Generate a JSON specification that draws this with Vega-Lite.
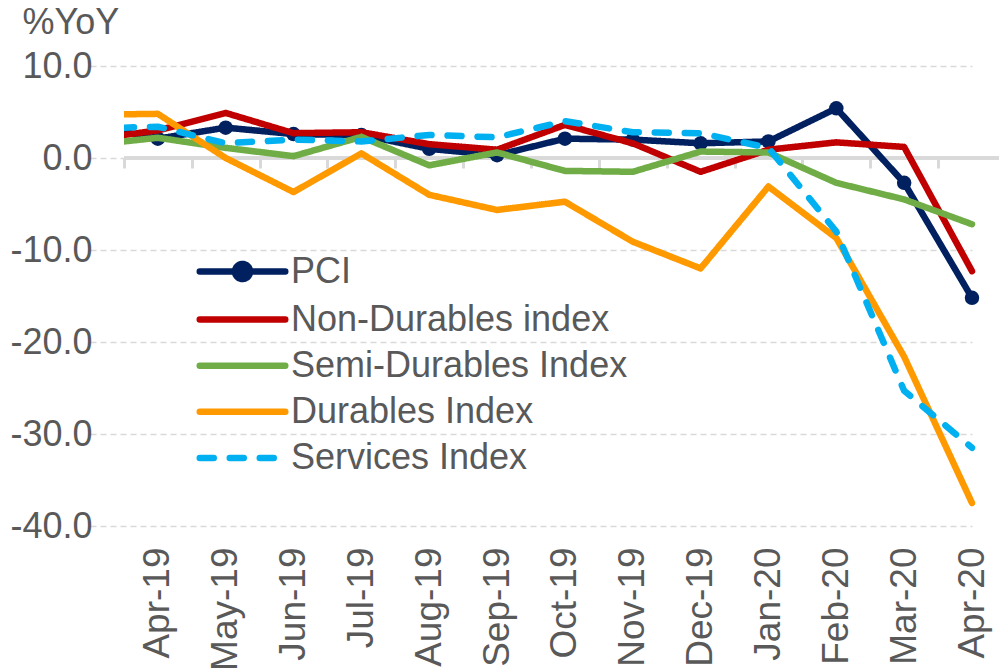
{
  "$schema": "https://vega.github.io/schema/vega-lite/v6.json",
  "width": 875,
  "height": 460,
  "autosize": {"type": "none"},
  "padding": {"left": 124, "top": 66, "right": 0, "bottom": 146},
  "background": "white",
  "config": {"view": {"stroke": null}, "font": "Liberation Sans"},
  "data": {
    "values": [
      {"month": "Mar-19", "series": "PCI", "value": 3.5},
      {"month": "Apr-19", "series": "PCI", "value": 2.1},
      {"month": "May-19", "series": "PCI", "value": 3.3},
      {"month": "Jun-19", "series": "PCI", "value": 2.6},
      {"month": "Jul-19", "series": "PCI", "value": 2.5},
      {"month": "Aug-19", "series": "PCI", "value": 1.0},
      {"month": "Sep-19", "series": "PCI", "value": 0.3},
      {"month": "Oct-19", "series": "PCI", "value": 2.1},
      {"month": "Nov-19", "series": "PCI", "value": 2.0},
      {"month": "Dec-19", "series": "PCI", "value": 1.6},
      {"month": "Jan-20", "series": "PCI", "value": 1.8},
      {"month": "Feb-20", "series": "PCI", "value": 5.4},
      {"month": "Mar-20", "series": "PCI", "value": -2.7},
      {"month": "Apr-20", "series": "PCI", "value": -15.2},
      {"month": "Mar-19", "series": "Non-Durables index", "value": 2.0},
      {"month": "Apr-19", "series": "Non-Durables index", "value": 3.0},
      {"month": "May-19", "series": "Non-Durables index", "value": 4.9},
      {"month": "Jun-19", "series": "Non-Durables index", "value": 2.7},
      {"month": "Jul-19", "series": "Non-Durables index", "value": 2.8},
      {"month": "Aug-19", "series": "Non-Durables index", "value": 1.5},
      {"month": "Sep-19", "series": "Non-Durables index", "value": 0.9},
      {"month": "Oct-19", "series": "Non-Durables index", "value": 3.6},
      {"month": "Nov-19", "series": "Non-Durables index", "value": 1.6},
      {"month": "Dec-19", "series": "Non-Durables index", "value": -1.5},
      {"month": "Jan-20", "series": "Non-Durables index", "value": 0.9},
      {"month": "Feb-20", "series": "Non-Durables index", "value": 1.7},
      {"month": "Mar-20", "series": "Non-Durables index", "value": 1.2},
      {"month": "Apr-20", "series": "Non-Durables index", "value": -12.3},
      {"month": "Mar-19", "series": "Semi-Durables Index", "value": 1.4},
      {"month": "Apr-19", "series": "Semi-Durables Index", "value": 2.2},
      {"month": "May-19", "series": "Semi-Durables Index", "value": 1.1},
      {"month": "Jun-19", "series": "Semi-Durables Index", "value": 0.2},
      {"month": "Jul-19", "series": "Semi-Durables Index", "value": 2.3},
      {"month": "Aug-19", "series": "Semi-Durables Index", "value": -0.8},
      {"month": "Sep-19", "series": "Semi-Durables Index", "value": 0.6},
      {"month": "Oct-19", "series": "Semi-Durables Index", "value": -1.4},
      {"month": "Nov-19", "series": "Semi-Durables Index", "value": -1.5},
      {"month": "Dec-19", "series": "Semi-Durables Index", "value": 0.7},
      {"month": "Jan-20", "series": "Semi-Durables Index", "value": 0.6},
      {"month": "Feb-20", "series": "Semi-Durables Index", "value": -2.7},
      {"month": "Mar-20", "series": "Semi-Durables Index", "value": -4.5},
      {"month": "Apr-20", "series": "Semi-Durables Index", "value": -7.2},
      {"month": "Mar-19", "series": "Durables Index", "value": 4.7},
      {"month": "Apr-19", "series": "Durables Index", "value": 4.8},
      {"month": "May-19", "series": "Durables Index", "value": 0.0},
      {"month": "Jun-19", "series": "Durables Index", "value": -3.7},
      {"month": "Jul-19", "series": "Durables Index", "value": 0.5},
      {"month": "Aug-19", "series": "Durables Index", "value": -4.0},
      {"month": "Sep-19", "series": "Durables Index", "value": -5.65},
      {"month": "Oct-19", "series": "Durables Index", "value": -4.75},
      {"month": "Nov-19", "series": "Durables Index", "value": -9.1},
      {"month": "Dec-19", "series": "Durables Index", "value": -12.0},
      {"month": "Jan-20", "series": "Durables Index", "value": -3.1},
      {"month": "Feb-20", "series": "Durables Index", "value": -8.7},
      {"month": "Mar-20", "series": "Durables Index", "value": -21.6},
      {"month": "Apr-20", "series": "Durables Index", "value": -37.5},
      {"month": "Mar-19", "series": "Services Index", "value": 3.2},
      {"month": "Apr-19", "series": "Services Index", "value": 3.4},
      {"month": "May-19", "series": "Services Index", "value": 1.6},
      {"month": "Jun-19", "series": "Services Index", "value": 2.0},
      {"month": "Jul-19", "series": "Services Index", "value": 1.8},
      {"month": "Aug-19", "series": "Services Index", "value": 2.5},
      {"month": "Sep-19", "series": "Services Index", "value": 2.25},
      {"month": "Oct-19", "series": "Services Index", "value": 4.0},
      {"month": "Nov-19", "series": "Services Index", "value": 2.8},
      {"month": "Dec-19", "series": "Services Index", "value": 2.7},
      {"month": "Jan-20", "series": "Services Index", "value": 1.1},
      {"month": "Feb-20", "series": "Services Index", "value": -8.0},
      {"month": "Mar-20", "series": "Services Index", "value": -25.3},
      {"month": "Apr-20", "series": "Services Index", "value": -31.5}
    ]
  },
  "resolve": {"axis": {"x": "independent"}},
  "layer": [
    {
      "mark": {"type": "rule", "color": "#d9d9d9", "strokeWidth": 3},
      "encoding": {"y": {"datum": 0, "type": "quantitative"}}
    },
    {
      "transform": [{"filter": "datum.series === 'PCI'"}],
      "mark": {"type": "point", "filled": true, "size": 210, "color": "#002060", "opacity": 1, "clip": true},
      "encoding": {
        "x": {
          "field": "month", "type": "ordinal",
          "scale": {"type": "point", "padding": 0, "domain": ["Mar-19","Apr-19","May-19","Jun-19","Jul-19","Aug-19","Sep-19","Oct-19","Nov-19","Dec-19","Jan-20","Feb-20","Mar-20","Apr-20"], "range": [-34, 848]},
          "axis": {"orient": "bottom", "offset": -368, "labels": false, "domain": false, "grid": false, "ticks": true, "tickSize": 10, "tickWidth": 3, "tickColor": "#d9d9d9", "tickOffset": 33.9, "title": null,
            "values": ["Mar-19","Apr-19","May-19","Jun-19","Jul-19","Aug-19","Sep-19","Oct-19","Nov-19","Dec-19","Jan-20","Feb-20","Mar-20"]}
        },
        "y": {"field": "value", "type": "quantitative"}
      }
    },
    {
      "mark": {"type": "line", "strokeWidth": 6.5, "clip": true, "strokeCap": "round", "strokeJoin": "round"},
      "encoding": {
        "x": {
          "field": "month", "type": "ordinal",
          "scale": {"type": "point", "padding": 0, "domain": ["Mar-19","Apr-19","May-19","Jun-19","Jul-19","Aug-19","Sep-19","Oct-19","Nov-19","Dec-19","Jan-20","Feb-20","Mar-20","Apr-20"], "range": [-34, 848]},
          "axis": {"orient": "bottom", "labelAngle": 270, "labelFontSize": 37, "labelColor": "#595959", "ticks": false, "domain": false, "grid": false, "labelPadding": 21, "title": null,
            "values": ["Apr-19","May-19","Jun-19","Jul-19","Aug-19","Sep-19","Oct-19","Nov-19","Dec-19","Jan-20","Feb-20","Mar-20","Apr-20"]}
        },
        "y": {
          "field": "value", "type": "quantitative",
          "scale": {"domain": [-40, 10], "nice": false, "zero": false},
          "axis": {"values": [-40, -30, -20, -10, 0, 10], "grid": true, "gridDash": [6, 4], "gridColor": "#d9d9d9", "gridWidth": 1.5, "domain": false, "ticks": false,
            "labelFontSize": 36, "labelColor": "#595959", "labelPadding": 32,
            "labelExpr": "datum.value < 0 ? '-' + format(-datum.value, '.1f') : format(datum.value, '.1f')",
            "title": "%YoY", "titleAngle": 0, "titleX": -102, "titleY": -33, "titleAlign": "left", "titleBaseline": "alphabetic", "titleFontSize": 36, "titleFontWeight": "normal", "titleColor": "#595959"}
        },
        "color": {
          "field": "series", "type": "nominal",
          "scale": {"domain": ["PCI","Non-Durables index","Semi-Durables Index","Durables Index","Services Index"], "range": ["#002060","#C00000","#70AD47","#FF9900","#00B0F0"]},
          "legend": {"orient": "none", "legendX": 100, "legendY": 187, "title": null, "symbolType": "M-2.85,0H2.85", "symbolSize": 900, "symbolStrokeWidth": 6.5, "labelFontSize": 36, "labelColor": "#595959", "labelOffset": 30, "labelLimit": 0, "rowPadding": 9.1, "padding": 0,
            "encode": {"symbols": {"update": {
              "shape": {"signal": "datum.value === 'PCI' ? 'M-2.85,0H2.85M-0.5,0A0.5,0.5 0 1,0 0.5,0A0.5,0.5 0 1,0 -0.5,0Z' : 'M-2.85,0H2.85'"},
              "fill": {"signal": "datum.value === 'PCI' ? '#002060' : 'transparent'"},
              "strokeCap": {"value": "round"}}}}}
        },
        "strokeDash": {
          "field": "series", "type": "nominal",
          "scale": {"domain": ["PCI","Non-Durables index","Semi-Durables Index","Durables Index","Services Index"], "range": [[1,0],[1,0],[1,0],[1,0],[14,16]]},
          "legend": {"orient": "none", "legendX": 100, "legendY": 187, "title": null, "symbolType": "M-2.85,0H2.85", "symbolSize": 900, "symbolStrokeWidth": 6.5, "labelFontSize": 36, "labelColor": "#595959", "labelOffset": 30, "labelLimit": 0, "rowPadding": 9.1, "padding": 0,
            "encode": {"symbols": {"update": {
              "shape": {"signal": "datum.value === 'PCI' ? 'M-2.85,0H2.85M-0.5,0A0.5,0.5 0 1,0 0.5,0A0.5,0.5 0 1,0 -0.5,0Z' : 'M-2.85,0H2.85'"},
              "fill": {"signal": "datum.value === 'PCI' ? '#002060' : 'transparent'"},
              "strokeCap": {"value": "round"}}}}}
        }
      }
    }
  ]
}
